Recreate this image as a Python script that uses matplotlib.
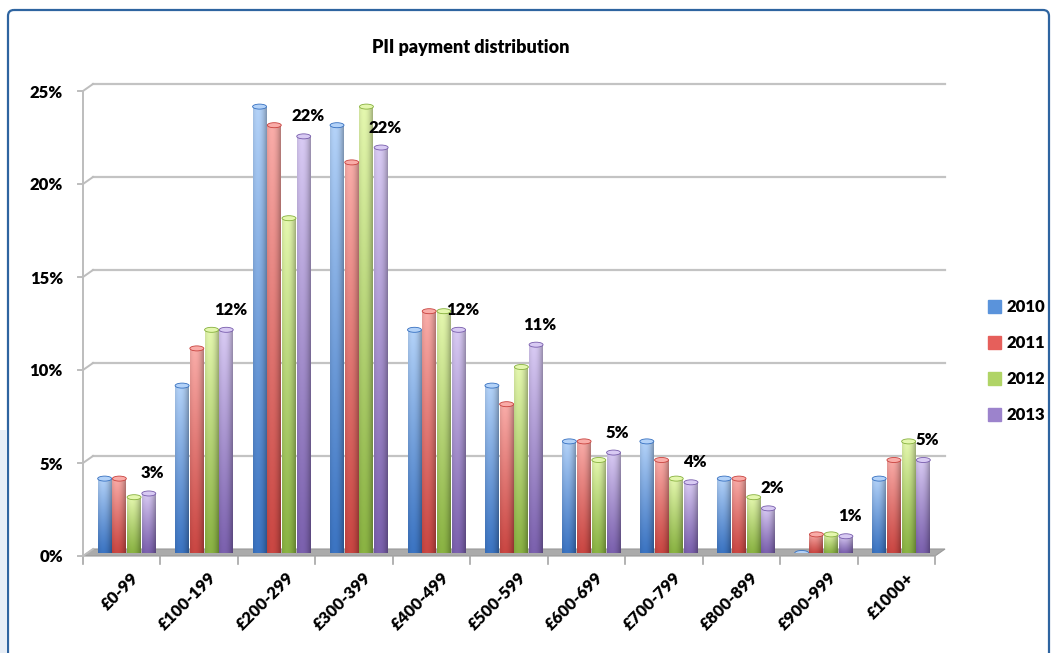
import matplotlib.pyplot as plt
import numpy as np
from matplotlib.patches import Ellipse, Polygon, FancyBboxPatch, Rectangle
from matplotlib.colors import to_rgb
from matplotlib.transforms import ScaledTranslation

plt.rcParams['font.family'] = ['Lato', 'DejaVu Sans']
plt.rcParams['font.weight'] = 'heavy'

# Daten (Anteil in %)
bands = ['£0-99', '£100-199', '£200-299', '£300-399', '£400-499', '£500-599',
         '£600-699', '£700-799', '£800-899', '£900-999', '£1000+']
years = ['2010', '2011', '2012', '2013']
p2010 = [4, 9, 24, 23, 12, 9, 6, 6, 4, 0, 4]
p2011 = [4, 11, 23, 21, 13, 8, 6, 5, 4, 1, 5]
p2012 = [3, 12, 18, 24, 13, 10, 5, 4, 3, 1, 6]
p2013 = [3.2, 12, 22.4, 21.8, 12, 11.2, 5.4, 3.8, 2.4, 0.9, 5]
series = [p2010, p2011, p2012, p2013]

base = ['#5A93DB', '#E65F5B', '#B0D466', '#9C83CC']
light = ['#B3D2F8', '#F9ACA8', '#E4F7AE', '#D8CAF3']
dark = ['#3670C0', '#C8423E', '#86B03E', '#775CAB']

W, H = 1056, 653
fig = plt.figure(figsize=(W / 100, H / 100), dpi=100)

# Hintergrund-Ebene in Pixelkoordinaten
ax0 = fig.add_axes([0, 0, 1, 1], zorder=0)
ax0.set_xlim(0, W)
ax0.set_ylim(H, 0)
ax0.axis('off')

ax = fig.add_axes([88 / W, (H - 553) / H, 852 / W, 471 / H], zorder=1)
ax.patch.set_visible(False)
ax.set_xlim(-0.5, 10.5)
ax.set_ylim(0, 471 / 18.6)

front = (-5, -3)
back = (5, 4)


def to_px(x, v, off=(0, 0)):
    X, Y = ax.transData.transform((x, v))
    return X + off[0], H - Y - off[1]


# Rahmen
ax0.add_patch(FancyBboxPatch((8, 10), 1041, 680, boxstyle='round,pad=0,rounding_size=6',
                             fill=False, edgecolor='#2E64A0', lw=1.6))
ax0.add_patch(Rectangle((0, 430), 7, 223, color='#E6EDF6', lw=0))

# Boden
floor = [to_px(-0.5, 0, front), to_px(10.5, 0, front), to_px(10.5, 0, back), to_px(-0.5, 0, back)]
ax0.add_patch(Polygon(floor, closed=True, facecolor='#ABABAB', edgecolor='#9A9A9A', lw=0.8))
for k in range(12):
    x0, y0 = to_px(k - 0.5, 0, front)
    ax0.plot([x0, x0], [y0, y0 + 8], color='#A6A6A6', lw=1.2)

# Gitterlinien (Rückwand) und linke Wand
yticks = [0, 5, 10, 15, 20, 25]
for v in yticks:
    xb0, yb0 = to_px(-0.5, v, back)
    xb1, yb1 = to_px(10.5, v, back)
    if v > 0:
        ax0.plot([xb0, xb1], [yb0, yb1], color='#C3C3C3', lw=1.6)
    xf, yf = to_px(-0.5, v, front)
    ax0.plot([xf - 5, xf, xb0], [yf, yf, yb0], color='#BDBDBD', lw=1.4)
xf0, yf0 = to_px(-0.5, 0, front)
xf1, yf1 = to_px(-0.5, 25, front)
ax0.plot([xf0, xf1], [yf0, yf1], color='#BDBDBD', lw=1.4)

# Balken
bw = 0.18
step = 0.19
x = np.arange(len(bands))
cap_h = 5 / 18.6
for i, vals in enumerate(series):
    xs = x + (i - 1.5) * step
    bars = ax.bar(xs, vals, width=bw, color=base[i], edgecolor='none', zorder=2, label=years[i])
    lc, dc = np.array(to_rgb(light[i])), np.array(to_rgb(dark[i]))
    for b, v in zip(bars, vals):
        if v > 0:
            ty = np.linspace(0, 1, 40)[:, None, None]
            tx = np.linspace(0, 1, 20)[None, :, None]
            col = dc + (lc - dc) * (0.05 + 0.95 * ty ** 1.1)
            shade = 1 - 0.28 * ((tx - 0.35) / 0.65) ** 2
            img = np.clip(col * shade, 0, 1)
            im = ax.imshow(img, extent=[b.get_x(), b.get_x() + bw, 0, v], origin='lower',
                           aspect='auto', zorder=2.1, interpolation='bilinear')
            im.set_clip_path(b)
        ax.add_patch(Ellipse((b.get_x() + bw / 2, v), bw, cap_h, facecolor=light[i],
                             edgecolor=dark[i], lw=0.6, zorder=2.2))

ax.set_xlim(-0.5, 10.5)
ax.set_ylim(0, 471 / 18.6)

# Datenbeschriftung 2013
xs13 = x + 1.5 * step
for xv, v in zip(xs13, p2013):
    ax.annotate(f'{v:.0f}%', xy=(xv, v), xytext=(4, 12), textcoords='offset pixels',
                ha='center', va='bottom', fontsize=12, zorder=3)

for s in ax.spines.values():
    s.set_visible(False)
ax.set_yticks(yticks)
ax.set_yticklabels([f'{v}%' for v in yticks], fontsize=12)
ax.tick_params(axis='y', length=0, pad=18)
for lab in ax.get_yticklabels():
    lab.set_transform(lab.get_transform() + ScaledTranslation(0, -3 / 100, fig.dpi_scale_trans))

ax.set_xticks(x)
ax.set_xticklabels(bands, rotation=45, ha='right', rotation_mode='anchor', fontsize=12)
ax.tick_params(axis='x', length=0, pad=12)
for lab in ax.get_xticklabels():
    lab.set_transform(lab.get_transform() + ScaledTranslation(4 / 100, 0, fig.dpi_scale_trans))

fig.text(471 / W, 1 - 48 / H, 'PII payment distribution', ha='center', va='center',
         fontsize=13)

fig.legend(handles=[Rectangle((0, 0), 1, 1, color=c) for c in base], labels=years,
           loc='upper left', bbox_to_anchor=(980 / W, 1 - 291 / H), frameon=False,
           handlelength=0.75, handleheight=0.75, handletextpad=0.35, labelspacing=1.2,
           borderpad=0, prop={'size': 12})

fig.savefig('out.png', dpi=100)
